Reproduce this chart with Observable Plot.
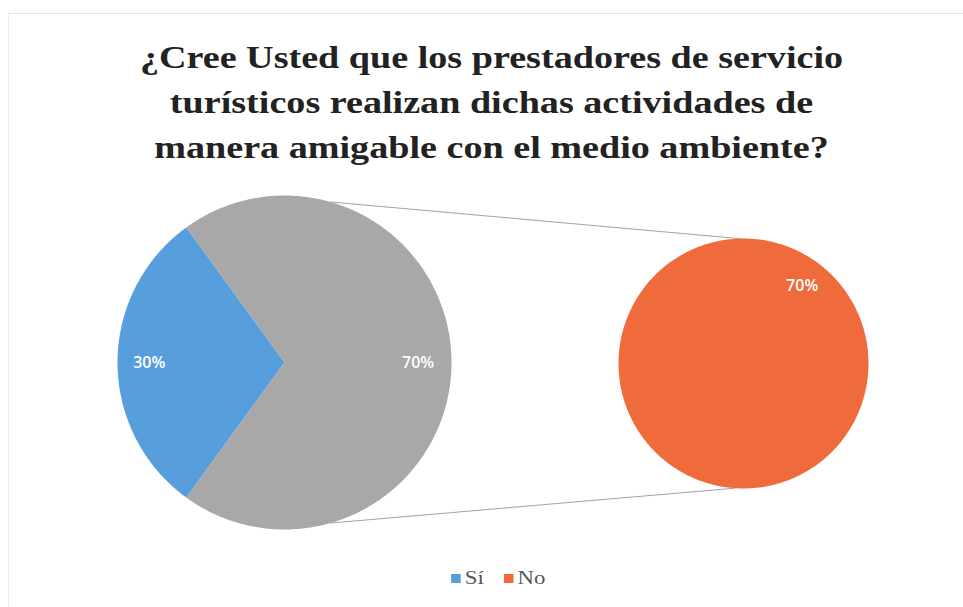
<!DOCTYPE html>
<html><head><meta charset="utf-8">
<script src="https://cdn.jsdelivr.net/npm/d3@7"></script>
<script src="https://cdn.jsdelivr.net/npm/@observablehq/plot@0.6"></script>
<style>
body{margin:0;background:#fff;width:963px;height:607px;overflow:hidden;position:relative}
#frame{position:absolute;left:8px;top:13px;right:-2px;bottom:-2px;border-top:1px solid #e4e4e4;border-left:1px solid #ececec}
#title{position:absolute;top:35px;left:10px;width:963px;text-align:center;font:bold 31px/45px "Liberation Serif","Times New Roman",serif;color:#222;transform:scaleX(1.23);transform-origin:50% 0}
#chart{position:absolute;top:168px;left:0}
#legend{position:absolute;top:567px;left:17px;width:963px;display:flex;justify-content:center;align-items:center;gap:17px;font:19px "Liberation Serif","Times New Roman",serif;color:#555;transform:scaleX(1.2);transform-origin:50% 0}
#legend .item{display:flex;align-items:center;gap:3px}
#legend .sw{display:inline-block;width:8px;height:9px;margin-top:1px}
</style>
</head><body>
<div id="frame"></div>
<div id="title">¿Cree Usted que los prestadores de servicio<br>turísticos realizan dichas actividades de<br>manera amigable con el medio ambiente?</div>
<div id="chart"></div>
<div id="legend"></div>
<script>
// Data
const categories = ["Sí", "No"];
const values = [30, 70];
const colors = ["#579fdc", "#f06b3b"];
const otherKey = "Otro";           // aggregated slice in the first pie (contains "No")
const otherColor = "#a9a8a8";

// Layout (pixel geometry of the two pies inside the SVG)
const W = 963, H = 380;
const L = {cx: 284, cy: 194, r: 167};
const R = {cx: 743, cy: 195, r: 125};
const deg = Math.PI / 180;

const total = d3.sum(values);
const pt = (c, a, f = 1) => ({x: c.cx + c.r * f * Math.cos(a), y: c.cy - c.r * f * Math.sin(a)});
function sector(c, a0, a1, key) {
  const pts = [];
  const full = Math.abs(a1 - a0) >= 2 * Math.PI - 1e-9;
  if (!full) pts.push({x: c.cx, y: c.cy, key});
  const n = 240;
  for (let i = 0; i <= n; i++) {
    const a = a0 + (a1 - a0) * i / n;
    pts.push({...pt(c, a), key});
  }
  if (!full) pts.push({x: c.cx, y: c.cy, key});
  return pts;
}

const siShare = values[0] / total;
const span = siShare * 2 * Math.PI;
const siA0 = Math.PI - span / 2, siA1 = Math.PI + span / 2;
const slices = [
  ...sector(L, siA0, siA1, categories[0]),
  ...sector(L, siA1, siA0 + 2 * Math.PI, otherKey),
  ...sector(R, 0, 2 * Math.PI, categories[1])
];

const connectors = [
  {...pt(L, 74 * deg), g: 0}, {...pt(R, 92 * deg), g: 0},
  {...pt(L, -74 * deg), g: 1}, {...pt(R, -94 * deg), g: 1}
];

const labels = [
  {...pt(L, Math.PI, 0.81), t: `${values[0]}%`},
  {...pt(L, 0, 0.80), t: `${values[1]}%`},
  {...pt(R, 53 * deg, 0.78), t: `${values[1]}%`}
];

const plot = Plot.plot({
  width: W, height: H, margin: 0,
  x: {domain: [0, W], range: [0, W], axis: null},
  y: {domain: [0, H], range: [0, H], axis: null},
  color: {domain: [...categories, otherKey], range: [...colors, otherColor]},
  style: {background: "transparent"},
  marks: [
    Plot.line(connectors, {x: "x", y: "y", z: "g", stroke: "#a3a3a3", strokeWidth: 1}),
    Plot.line(slices, {x: "x", y: "y", z: "key", fill: "key", stroke: "none"}),
    Plot.text(labels, {x: "x", y: "y", text: "t", fill: "white", fontSize: 16, fontWeight: 600,
      fontFamily: "'Open Sans', 'Noto Sans', sans-serif"})
  ]
});
document.getElementById("chart").appendChild(plot);

// Legend built from the same color scale
const scale = plot.scale("color");
const leg = document.getElementById("legend");
categories.forEach(c => {
  const item = document.createElement("span");
  item.className = "item";
  const sw = document.createElement("span");
  sw.className = "sw";
  sw.style.background = scale.apply(c);
  item.appendChild(sw);
  item.appendChild(document.createTextNode(c));
  leg.appendChild(item);
});
</script>
</body></html>
